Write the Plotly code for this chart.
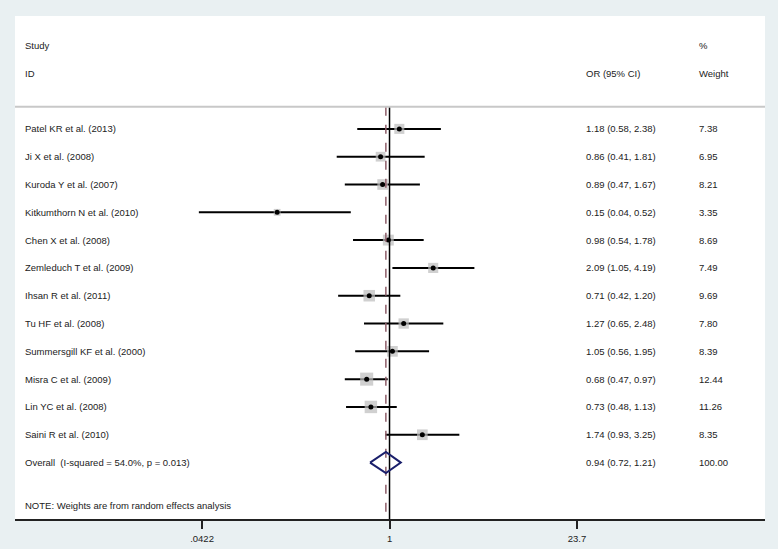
import plotly.graph_objects as go
import math

studies = ["Patel KR et al. (2013)", "Ji X et al. (2008)", "Kuroda Y et al. (2007)",
           "Kitkumthorn N et al. (2010)", "Chen X et al. (2008)", "Zemleduch T et al. (2009)",
           "Ihsan R et al. (2011)", "Tu HF et al. (2008)", "Summersgill KF et al. (2000)",
           "Misra C et al. (2009)", "Lin YC et al. (2008)", "Saini R et al. (2010)"]
or_est = [1.18, 0.86, 0.89, 0.15, 0.98, 2.09, 0.71, 1.27, 1.05, 0.68, 0.73, 1.74]
ci_low = [0.58, 0.41, 0.47, 0.04, 0.54, 1.05, 0.42, 0.65, 0.56, 0.47, 0.48, 0.93]
ci_high = [2.38, 1.81, 1.67, 0.52, 1.78, 4.19, 1.20, 2.48, 1.95, 0.97, 1.13, 3.25]
weights = [7.38, 6.95, 8.21, 3.35, 8.69, 7.49, 9.69, 7.80, 8.39, 12.44, 11.26, 8.35]

overall_label = "Overall&nbsp;&nbsp;(I-squared = 54.0%, p = 0.013)"
overall_est, overall_low, overall_high, overall_w = 0.94, 0.72, 1.21, 100.00
note = "NOTE: Weights are from random effects analysis"
tick_vals = [0.0422, 1, 23.7]
tick_text = [".0422", "1", "23.7"]

n = len(studies)
rows = list(range(n))
overall_row = n
note_row = n + 1.55
header_line = -0.8
y_top, y_bot = -4.06, 14.03

FONT = "Liberation Sans, Arial, sans-serif"
TXT = "#222222"
FS = 9.5

fig = go.Figure()

# CI lines
xs, ys = [], []
for i in rows:
    xs += [ci_low[i], ci_high[i], None]
    ys += [i, i, None]
fig.add_trace(go.Scatter(x=xs, y=ys, mode="lines", line=dict(color="black", width=2),
                         hoverinfo="skip", showlegend=False))
# weight boxes
fig.add_trace(go.Scatter(x=or_est, y=rows, mode="markers",
                         marker=dict(symbol="square", color="#bcbcbc",
                                     size=[3.7 * math.sqrt(w) for w in weights],
                                     line=dict(width=0)),
                         showlegend=False))
# point estimate dots
fig.add_trace(go.Scatter(x=or_est, y=rows, mode="markers",
                         marker=dict(symbol="circle", color="black", size=5),
                         showlegend=False))
# reference line at 1
fig.add_trace(go.Scatter(x=[1, 1], y=[header_line, y_bot], mode="lines",
                         line=dict(color="black", width=1.5), hoverinfo="skip", showlegend=False))
# overall dashed line
fig.add_trace(go.Scatter(x=[overall_est, overall_est], y=[header_line, y_bot], mode="lines",
                         line=dict(color="#8e5f6a", width=1.5, dash="dash"),
                         hoverinfo="skip", showlegend=False))
# overall diamond
dh = 0.38
fig.add_trace(go.Scatter(x=[overall_low, overall_est, overall_high, overall_est, overall_low],
                         y=[overall_row, overall_row - dh, overall_row, overall_row + dh, overall_row],
                         mode="lines", line=dict(color="#1a1f6b", width=2),
                         hoverinfo="skip", showlegend=False))

ann = []
def txt(x, y, s):
    ann.append(dict(x=x, y=y, xref="paper", yref="y", text=s, showarrow=False,
                    xanchor="left", yanchor="middle", xshift=-1,
                    font=dict(family=FONT, size=FS, color=TXT)))

xs_lab, xs_ci, xs_w = 0.012, 0.76, 0.911
txt(xs_lab, -3, "Study")
txt(xs_lab, -2, "ID")
txt(xs_ci, -2, "OR (95% CI)")
txt(xs_w, -3, "%")
txt(xs_w, -2, "Weight")
for i in rows:
    txt(xs_lab, i, studies[i])
    txt(xs_ci, i, f"{or_est[i]:.2f} ({ci_low[i]:.2f}, {ci_high[i]:.2f})")
    txt(xs_w, i, f"{weights[i]:.2f}")
txt(xs_lab, overall_row, overall_label)
txt(xs_ci, overall_row, f"{overall_est:.2f} ({overall_low:.2f}, {overall_high:.2f})")
txt(xs_w, overall_row, f"{overall_w:.2f}")
txt(xs_lab, note_row, note)

fig.update_layout(
    width=778, height=549,
    margin=dict(l=15, r=13, t=16, b=30, autoexpand=False),
    paper_bgcolor="#e9f0f2", plot_bgcolor="white",
    annotations=ann,
    shapes=[dict(type="line", xref="paper", yref="y", x0=0, x1=1, y0=header_line, y1=header_line,
                 line=dict(color="#c8c8c8", width=2))],
    xaxis=dict(type="log", range=[-2.746, 2.753], tickvals=tick_vals, ticktext=tick_text,
               showgrid=False, zeroline=False, showline=True, linecolor="#222", linewidth=1.5,
               ticks="outside", ticklen=8, tickwidth=1.5, tickcolor="#222",
               ticklabelstandoff=2, automargin=False,
               tickfont=dict(family=FONT, size=FS, color=TXT)),
    yaxis=dict(range=[y_bot, y_top], showgrid=False, zeroline=False, showticklabels=False,
               showline=False, ticks="", automargin=False),
    showlegend=False,
)
fig.write_html("out.html", config={"displayModeBar": False},
               post_script="document.body.style.margin='0';document.body.style.overflow='hidden';"
                           "document.body.style.background='#e9f0f2';")
